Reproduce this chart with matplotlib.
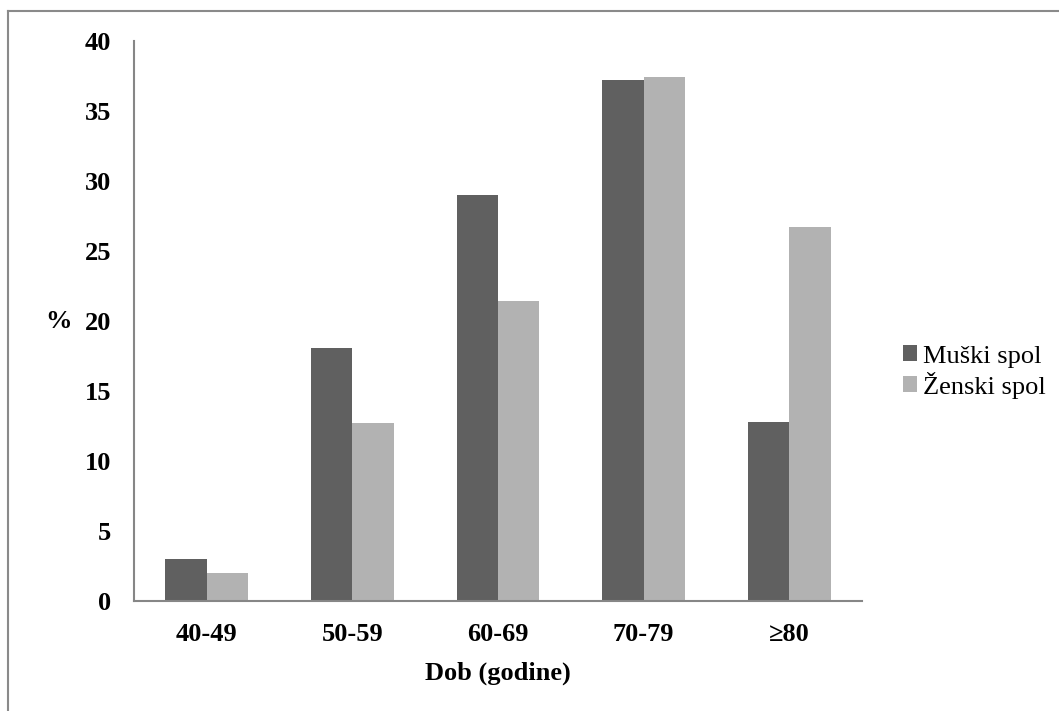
import numpy as np
import matplotlib.pyplot as plt
from matplotlib.lines import Line2D

plt.rcParams['font.family'] = ['Liberation Serif', 'DejaVu Serif']

dobne_skupine = ['40-49', '50-59', '60-69', '70-79', '≥80']
muski = [3.0, 18.1, 29.0, 37.2, 12.8]
zenski = [2.0, 12.7, 21.4, 37.4, 26.7]
y_ticks = [0, 5, 10, 15, 20, 25, 30, 35, 40]

W, H = 1059, 711
fig = plt.figure(figsize=(W / 100, H / 100), dpi=100)
ax = fig.add_axes([134 / W, 1 - 601 / H, (862 - 134) / W, (601 - 41) / H])

x = np.arange(len(dobne_skupine))
sirina = 0.285
ax.bar(x - sirina / 2, muski, sirina, color='#606060', label='Muški spol')
ax.bar(x + sirina / 2, zenski, sirina, color='#b2b2b2', label='Ženski spol')

ax.set_xlim(-0.5, len(dobne_skupine) - 0.5)
ax.set_ylim(0, 40)
ax.set_yticks(y_ticks)
ax.set_xticks(x)
ax.set_xticklabels(dobne_skupine)
ax.tick_params(length=0, labelsize=19)
ax.tick_params(axis='y', pad=16.5)
ax.tick_params(axis='x', pad=16)
for lab in ax.get_xticklabels() + ax.get_yticklabels():
    lab.set_fontweight('bold')

for s in ['top', 'right']:
    ax.spines[s].set_visible(False)
for s in ['left', 'bottom']:
    ax.spines[s].set_color('#868686')
    ax.spines[s].set_linewidth(1.5)

ax.set_xlabel('Dob (godine)', fontsize=19, fontweight='bold', labelpad=11)
fig.text(59 / W, 1 - 321 / H, '%', fontsize=19, fontweight='bold',
         ha='center', va='center')

ax.legend(loc='center left', bbox_to_anchor=(903 / W, 1 - 372 / H),
          bbox_transform=fig.transFigure, frameon=False, fontsize=19,
          borderpad=0, borderaxespad=0,
          handlelength=0.53, handleheight=0.53, handletextpad=0.23,
          labelspacing=0.15)

# okvir slike (samo gornji i lijevi rub vidljiv)
fig.add_artist(Line2D([8 / W, 8 / W], [0, 1 - 11 / H], color='#8a8a8a', lw=1.5,
                      transform=fig.transFigure))
fig.add_artist(Line2D([8 / W, 1], [1 - 11 / H, 1 - 11 / H], color='#8a8a8a', lw=1.5,
                      transform=fig.transFigure))

fig.savefig('out.png', dpi=100)
